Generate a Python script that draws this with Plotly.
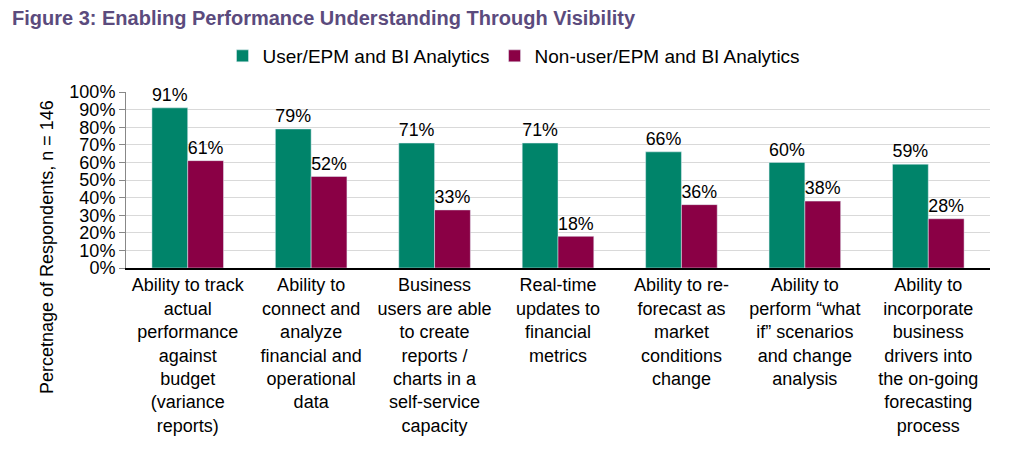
import plotly.graph_objects as go

categories = [
    "Ability to track<br>actual<br>performance<br>against<br>budget<br>(variance<br>reports)",
    "Ability to<br>connect and<br>analyze<br>financial and<br>operational<br>data",
    "Business<br>users are able<br>to create<br>reports /<br>charts in a<br>self-service<br>capacity",
    "Real-time<br>updates to<br>financial<br>metrics",
    "Ability to re-<br>forecast as<br>market<br>conditions<br>change",
    "Ability to<br>perform “what<br>if” scenarios<br>and change<br>analysis",
    "Ability to<br>incorporate<br>business<br>drivers into<br>the on-going<br>forecasting<br>process",
]
user_vals = [91, 79, 71, 71, 66, 60, 59]
nonuser_vals = [61, 52, 33, 18, 36, 38, 28]
series_names = ["User/EPM and BI Analytics", "Non-user/EPM and BI Analytics"]
tick_vals = list(range(0, 101, 10))
tick_text = [f"{v}%" for v in tick_vals]
y_title = "Percetnage of Respondents, n = 146"
chart_title = "Figure 3: Enabling Performance Understanding Through Visibility"

font_family = "Liberation Sans, Arial, sans-serif"
# page body has an 8px default margin; figure is sized to fit the window
OFF = 8
W, H = 1015 - OFF, 455 - OFF
L, R, T, B = 126 - OFF, 25, 92 - OFF, 187
pw = W - L - R
ph = H - T - B

fig = go.Figure()
fig.add_trace(go.Bar(
    x=categories, y=user_vals, name=series_names[0],
    marker_color="#00846a",
    text=[f"{v}%" for v in user_vals], textposition="outside",
    textfont=dict(size=19, color="black"), cliponaxis=False,
))
fig.add_trace(go.Bar(
    x=categories, y=nonuser_vals, name=series_names[1],
    marker_color="#8a0045",
    text=[f"{v}%" for v in nonuser_vals], textposition="outside",
    textfont=dict(size=19, color="black"), cliponaxis=False,
))

fig.update_layout(
    width=W, height=H,
    margin=dict(l=L, r=R, t=T, b=B),
    paper_bgcolor="white", plot_bgcolor="white",
    font=dict(family=font_family, size=18, color="black"),
    barmode="group", bargap=0.42, bargroupgap=0,
    title=dict(
        text=f"<b>{chart_title}</b>",
        x=(12 - OFF) / W, xanchor="left", y=1 - (18 - OFF) / H, yanchor="middle",
        font=dict(size=20, color="#5b4b7d", family=font_family),
    ),
    legend=dict(
        orientation="h", xref="container", x=(514 - OFF) / W, xanchor="center",
        yref="container", y=1 - (56 - OFF) / H, yanchor="middle",
        font=dict(size=19), itemwidth=30,
        traceorder="normal", tracegroupgap=0,
    ),
    showlegend=True,
    uniformtext=dict(mode=False),
    annotations=[dict(
        text=y_title, textangle=-90, xref="paper", yref="paper",
        x=(47 - OFF - L) / pw, y=(H - B - (247 - OFF)) / ph,
        xanchor="center", yanchor="middle", showarrow=False,
        font=dict(size=18, color="black"),
    )],
)
fig.update_xaxes(
    showline=True, linecolor="black", linewidth=1.5,
    tickangle=0, tickfont=dict(size=18), ticks="", automargin=False,
)
fig.update_yaxes(
    range=[0, 100], tickvals=tick_vals, ticktext=tick_text,
    showgrid=True, gridcolor="#d9d9d9", gridwidth=1,
    showline=True, linecolor="#888888", linewidth=1,
    ticks="outside", ticklen=6, tickcolor="#888888",
    tickfont=dict(size=18), automargin=False,
    zeroline=False,
)

fig.write_html("out.html")
